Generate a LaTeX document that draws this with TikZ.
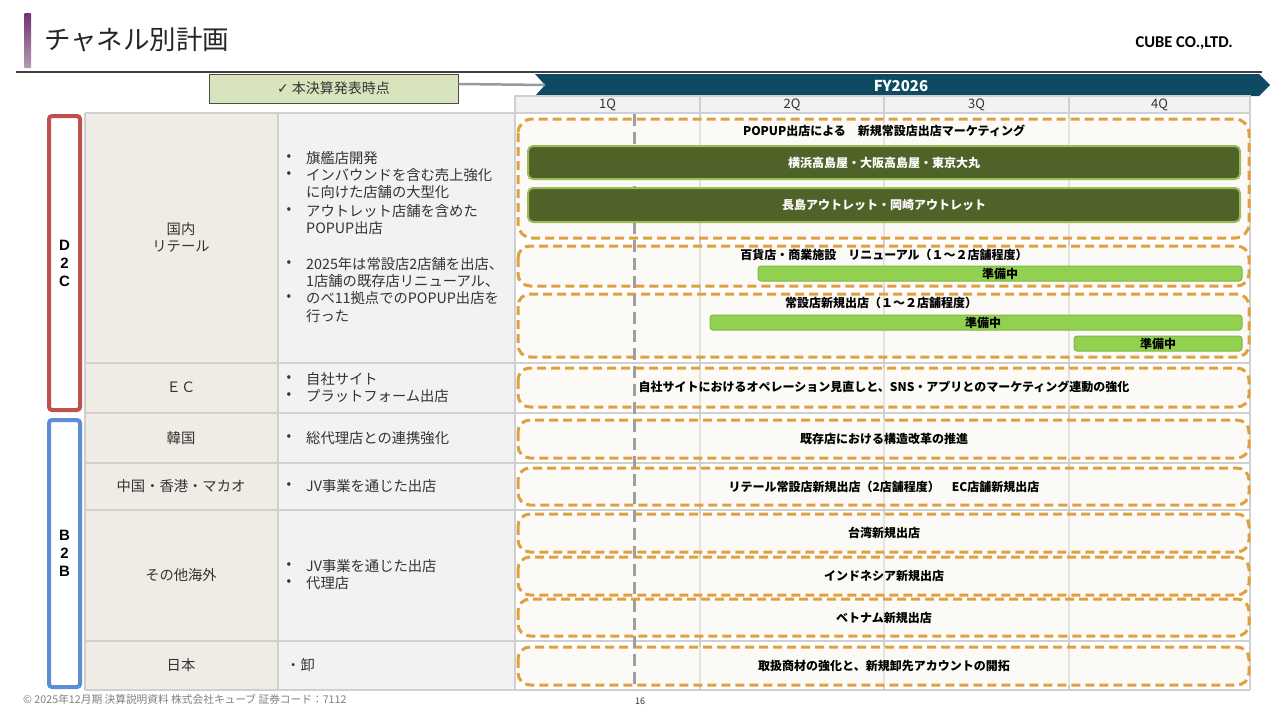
\documentclass[tikz,border=0pt]{standalone}
\usepackage{fontspec}
\setmainfont{Noto Sans CJK JP}
\newfontfamily\dejavu{DejaVu Sans}
\newfontfamily\calib{Carlito}
\newfontfamily\arialf{Liberation Sans}
\definecolor{orangeD}{HTML}{DFA13E}
\definecolor{darkgreen}{HTML}{4F6228}
\definecolor{lgreen}{HTML}{92D050}
\definecolor{lgreenb}{HTML}{7FB848}
\definecolor{bargreenb}{HTML}{9BBB59}
\definecolor{fyblue}{HTML}{0E4A63}
\definecolor{catfill}{HTML}{EEECE4}
\definecolor{descfill}{HTML}{F2F2F2}
\definecolor{gridc}{HTML}{D0D0D0}
\definecolor{d2cred}{HTML}{C0504D}
\definecolor{b2bblue}{HTML}{5F8DD3}
\definecolor{checkfill}{HTML}{D8E4BC}
\definecolor{boxfill}{HTML}{FBF6EE}
\definecolor{txt}{HTML}{333333}
\tikzset{
  plan/.style={draw=orangeD, line width=3pt, dash pattern=on 9pt off 5pt, fill=boxfill, fill opacity=0.5, rounded corners=12pt},
  darkbar/.style={draw=bargreenb, line width=2pt, fill=darkgreen, rounded corners=5pt},
  lightbar/.style={draw=lgreenb, line width=1pt, fill=lgreen, rounded corners=3pt},
  plantext/.style={font=\fontsize{12}{14}\selectfont\bfseries, text=black, inner sep=0pt},
  bartext/.style={font=\fontsize{12}{14}\selectfont\bfseries, text=white, inner sep=0pt},
  cattext/.style={font=\fontsize{14.3}{17}\selectfont, text=txt, align=center, inner sep=0pt},
  desctext/.style={font=\fontsize{14.3}{17}\selectfont, text=txt, anchor=west, inner sep=0pt},
  bul/.style={font=\fontsize{13.5}{17}\selectfont, text=txt, inner sep=0pt},
  grid/.style={draw=gridc, line width=1.2pt},
  qlabel/.style={font=\fontsize{13}{15}\selectfont, text=txt, inner sep=0pt},
  sidebox/.style={line width=4pt, fill=white, rounded corners=3pt},
  sidetext/.style={font=\fontsize{15}{19}\selectfont\arialf\bfseries, align=center, inner sep=0pt}
}
\begin{document}
\begin{tikzpicture}[x=1pt,y=-1pt]
\useasboundingbox[fill=white] (0,0) rectangle (1280,720);
% title
\shade[top color=black!20!violet!60!gray, bottom color=violet!30!gray!60, rounded corners=1pt] (24,13) rectangle (31,68);
\node[anchor=west, inner sep=0pt, font=\fontsize{26.5}{30}\selectfont, text=black!85] (title) at (44,40) {チャネル別計画};
\node[anchor=east, inner sep=0pt, font=\fontsize{16.5}{19}\selectfont\calib\bfseries, text=black] (logo) at (1233,43) {CUBE CO.,LTD.};
\draw[black!75, line width=1.2pt] (16,72) -- (1262,72);
% FY banner
\fill[fyblue] (535,74) -- (1259,74) -- (1270,85) -- (1259,96) -- (535,96) -- (545,85) -- cycle;
\coordinate (fytip) at (545,85);
\node[font=\fontsize{15}{18}\selectfont\bfseries, text=white, inner sep=0pt] (fy) at (901,86) {FY2026};
% check box
\node[draw=black!70, line width=1pt, fill=checkfill, minimum width=249pt, minimum height=29pt, inner sep=0pt, font=\fontsize{14}{17}\selectfont, text=txt] (chk) at (333.5,88.5) {{\dejavu\fontsize{14}{16}\selectfont ✓} 本決算発表時点};
\draw[gray!80, line width=2.5pt] (chk.east |- 0,84) -- (fytip);
% quarter header
\foreach \a/\b/\q in {515/700/1Q,700/884/2Q,884/1069/3Q,1069/1250/4Q}{
  \filldraw[fill=descfill, draw=gridc, line width=1.2pt] (\a,96) rectangle (\b,113);
  \node[qlabel] (q\q) at ({(\a+\b)/2},104.5) {\q};
}
% table fills
\fill[catfill] (85,113) rectangle (278,690);
\fill[descfill] (278,113) rectangle (515,690);
\foreach \y in {113,363,413,463,510,641,690}{ \draw[grid] (85,\y) -- (1250,\y); }
\foreach \x in {85,278,515,700,884,1069,1250}{ \draw[grid] (\x,113) -- (\x,690); }
% side boxes
\draw[sidebox, draw=d2cred] (49,116) rectangle (80,410);
\node[sidetext] (d2c) at (64.5,263) {D\\[-1pt]2\\[-1pt]C};
\draw[sidebox, draw=b2bblue] (49,420) rectangle (80,687);
\node[sidetext] (b2b) at (64.5,553) {B\\[-1pt]2\\[-1pt]B};
% categories
\node[cattext] (c1) at (181,237) {国内\\リテール};
\node[cattext] (c2) at (181,387) {ＥＣ};
\node[cattext] (c3) at (181,438) {韓国};
\node[cattext] (c4) at (181,486) {中国・香港・マカオ};
\node[cattext] (c5) at (181,575) {その他海外};
\node[cattext] (c6) at (181,665) {日本};
% descriptions
\foreach \y/\t/\b [count=\i] in {
  158/旗艦店開発/1,
  175/インバウンドを含む売上強化/1,
  192/に向けた店舗の大型化/0,
  211/アウトレット店舗を含めた/1,
  228/POPUP出店/0,
  264/2025年は常設店2店舗を出店、/1,
  281/1店舗の既存店リニューアル、/0,
  298/のべ11拠点でのPOPUP出店を/1,
  316/行った/0,
  379/自社サイト/1,
  396/プラットフォーム出店/1,
  438/総代理店との連携強化/1,
  486/JV事業を通じた出店/1,
  566/JV事業を通じた出店/1,
  583/代理店/1}{
  \node[desctext] (d\i) at (306,\y) {\t};
  \ifnum\b=1 \node[bul] (db\i) at (289,\y) {•};\fi
}
\node[desctext] (d16) at (286,665) {・卸};
% plan boxes
\draw[plan, rounded corners=14pt] (518,119) rectangle (1249,238);
\draw[plan] (518,246) rectangle (1249,286);
\draw[plan] (518,294) rectangle (1249,357);
\draw[plan] (518,368) rectangle (1249,407);
\draw[plan] (518,420) rectangle (1249,458);
\draw[plan] (518,468) rectangle (1249,505);
\draw[plan] (518,514) rectangle (1249,552);
\draw[plan] (518,557) rectangle (1249,595);
\draw[plan] (518,599) rectangle (1249,636);
\draw[plan] (518,647) rectangle (1249,685);
% now-line
\draw[gray!75, line width=3pt, dash pattern=on 12pt off 6pt] (634,114) -- (634,690);
% bars
\node[plantext] (p1) at (884,131) {POPUP出店による　新規常設店出店マーケティング};
\draw[darkbar] (528,146) rectangle (1240,179);
\node[bartext] (b1) at (884,162.5) {横浜高島屋・大阪高島屋・東京大丸};
\draw[darkbar] (528,188) rectangle (1240,222);
\node[bartext] (b2) at (884,205) {長島アウトレット・岡崎アウトレット};
\node[plantext] (p2) at (884,254.5) {百貨店・商業施設　リニューアル（１～２店舗程度）};
\draw[lightbar] (758,266) rectangle (1242,281);
\node[plantext] (r1) at (1000,273.5) {準備中};
\node[plantext] (p3) at (881,303) {常設店新規出店（１～２店舗程度）};
\draw[lightbar] (710,315) rectangle (1242,330);
\node[plantext] (r2) at (983,322.5) {準備中};
\draw[lightbar] (1074,336) rectangle (1242,351);
\node[plantext] (r3) at (1158,343.5) {準備中};
\node[plantext] (p4) at (884,387) {自社サイトにおけるオペレーション見直しと、SNS・アプリとのマーケティング連動の強化};
\node[plantext] (p5) at (884,438.5) {既存店における構造改革の推進};
\node[plantext] (p6) at (884,486.5) {リテール常設店新規出店（2店舗程度）　EC店舗新規出店};
\node[plantext] (p7) at (884,533) {台湾新規出店};
\node[plantext] (p8) at (884,576) {インドネシア新規出店};
\node[plantext] (p9) at (884,617.5) {ベトナム新規出店};
\node[plantext] (p10) at (884,665.5) {取扱商材の強化と、新規卸先アカウントの開拓};
% footer
\node[anchor=west, inner sep=0pt, font=\fontsize{10.7}{12}\selectfont, text=gray] (foot) at (23,699) {© 2025年12月期 決算説明資料 株式会社キューブ 証券コード：7112};
\node[inner sep=0pt, font=\fontsize{9}{11}\selectfont, text=black!80] (page) at (640,701) {16};
\end{tikzpicture}
\end{document}
